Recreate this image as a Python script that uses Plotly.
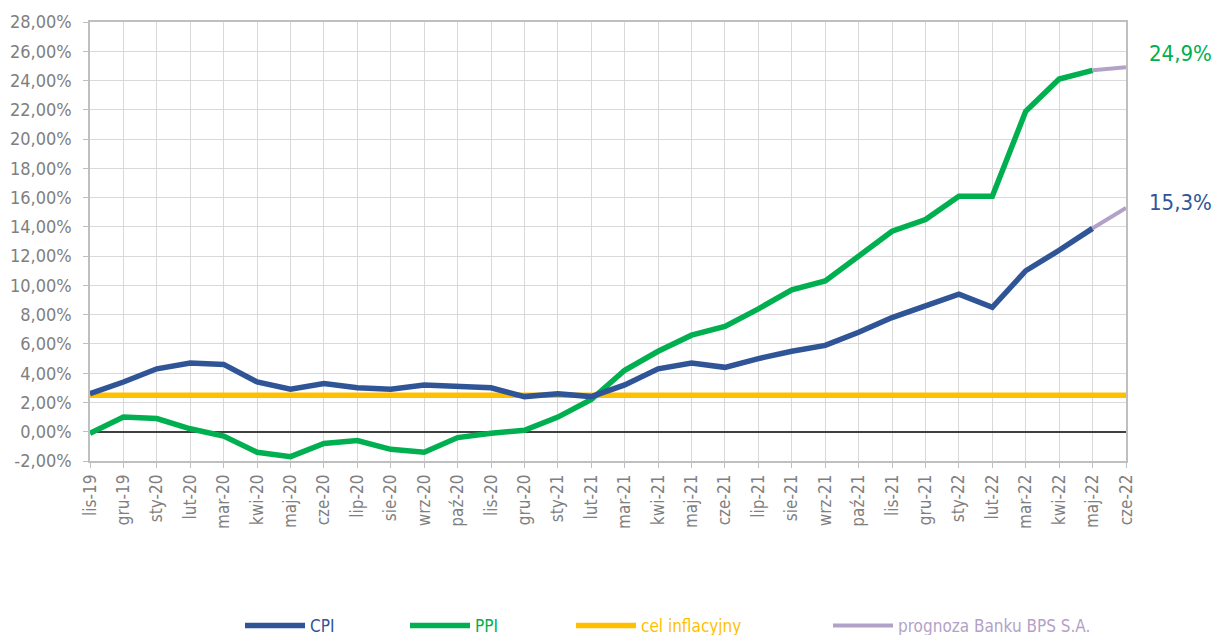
import plotly.graph_objects as go

months = ["lis-19","gru-19","sty-20","lut-20","mar-20","kwi-20","maj-20","cze-20","lip-20","sie-20",
          "wrz-20","paź-20","lis-20","gru-20","sty-21","lut-21","mar-21","kwi-21","maj-21","cze-21",
          "lip-21","sie-21","wrz-21","paź-21","lis-21","gru-21","sty-22","lut-22","mar-22","kwi-22",
          "maj-22","cze-22"]
cpi = [2.6, 3.4, 4.3, 4.7, 4.6, 3.4, 2.9, 3.3, 3.0, 2.9,
       3.2, 3.1, 3.0, 2.4, 2.6, 2.4, 3.2, 4.3, 4.7, 4.4,
       5.0, 5.5, 5.9, 6.8, 7.8, 8.6, 9.4, 8.5, 11.0, 12.4,
       13.9]
ppi = [-0.1, 1.0, 0.9, 0.2, -0.3, -1.4, -1.7, -0.8, -0.6, -1.2,
       -1.4, -0.4, -0.1, 0.1, 1.0, 2.2, 4.2, 5.5, 6.6, 7.2,
       8.4, 9.7, 10.3, 12.0, 13.7, 14.5, 16.1, 16.1, 21.9, 24.1,
       24.7]
target = [2.5] * len(months)
fc_months = ["maj-22", "cze-22"]
fc_cpi = [13.9, 15.3]
fc_ppi = [24.7, 24.9]
y_ticks = list(range(-2, 29, 2))
y_ticktext = [f"{v:.2f}".replace(".", ",") + "%" for v in y_ticks]

C_CPI = "#2F5597"
C_PPI = "#00B050"
C_TGT = "#FFC000"
C_FC = "#B3A2C7"
FONT = "DejaVu Sans Condensed, sans-serif"

W, H = 1216, 627  # page body adds an 8px margin

fig = go.Figure()
fig.add_trace(go.Scatter(x=months, y=target, mode="lines", name="cel inflacyjny",
                         line=dict(color=C_TGT, width=5.5), legend="legend4", showlegend=True))
fig.add_trace(go.Scatter(x=months[:len(ppi)], y=ppi, mode="lines", name="PPI",
                         line=dict(color=C_PPI, width=5.5), legend="legend3", showlegend=True))
fig.add_trace(go.Scatter(x=months[:len(cpi)], y=cpi, mode="lines", name="CPI",
                         line=dict(color=C_CPI, width=5.5), legend="legend2", showlegend=True))
fig.add_trace(go.Scatter(x=fc_months, y=fc_ppi, mode="lines", name="prognoza Banku BPS S.A.",
                         line=dict(color=C_FC, width=4), legend="legend5", showlegend=True))
fig.add_trace(go.Scatter(x=fc_months, y=fc_cpi, mode="lines", name="prognoza Banku BPS S.A.",
                         line=dict(color=C_FC, width=4), showlegend=False, legend="legend5"))

def fmt(v):
    return f"{v:.1f}".replace(".", ",") + "%"

fig.add_annotation(xref="paper", x=1, xanchor="left", xshift=21, y=25.85, yanchor="middle",
                   text=fmt(fc_ppi[-1]), showarrow=False,
                   font=dict(size=22, color=C_PPI, family=FONT))
fig.add_annotation(xref="paper", x=1, xanchor="left", xshift=21, y=15.65, yanchor="middle",
                   text=fmt(fc_cpi[-1]), showarrow=False,
                   font=dict(size=22, color=C_CPI, family=FONT))

def leg(xpx, color):
    return dict(orientation="h", xref="container", yref="container", x=xpx / W, y=9 / H,
                xanchor="left", yanchor="middle", bgcolor="rgba(0,0,0,0)",
                font=dict(size=17, color=color, family=FONT), itemwidth=60,
                tracegroupgap=0, visible=True)

fig.update_layout(
    width=W, height=H,
    margin=dict(l=82, r=98, t=14, b=174, autoexpand=False),
    paper_bgcolor="white", plot_bgcolor="white",
    showlegend=True,
    font=dict(family=FONT, color="#7F7F7F"),
    xaxis=dict(type="category", categoryorder="array", categoryarray=months,
               range=[0, len(months) - 1], showgrid=True, gridcolor="#D9D9D9", gridwidth=1,
               showline=True, linecolor="#BFBFBF", linewidth=1.5, mirror=True,
               ticks="outside", ticklen=5, tickcolor="#BFBFBF", tickangle=-90,
               tickfont=dict(size=17, color="#7F7F7F", family=FONT), automargin=False),
    yaxis=dict(range=[-2, 28], tickvals=y_ticks, ticktext=y_ticktext,
               showgrid=True, gridcolor="#D9D9D9", gridwidth=1,
               showline=True, linecolor="#BFBFBF", linewidth=1.5, mirror=True,
               ticks="outside", ticklen=5, tickcolor="#BFBFBF", ticklabelstandoff=8,
               zeroline=True, zerolinecolor="#404040", zerolinewidth=1.5,
               tickfont=dict(size=18, color="#7F7F7F", family=FONT), automargin=False),
    legend=dict(visible=False),
    legend2=leg(232, C_CPI),
    legend3=leg(397, C_PPI),
    legend4=leg(563, C_TGT),
    legend5=leg(820, C_FC),
)

fig.write_html("out.html")
